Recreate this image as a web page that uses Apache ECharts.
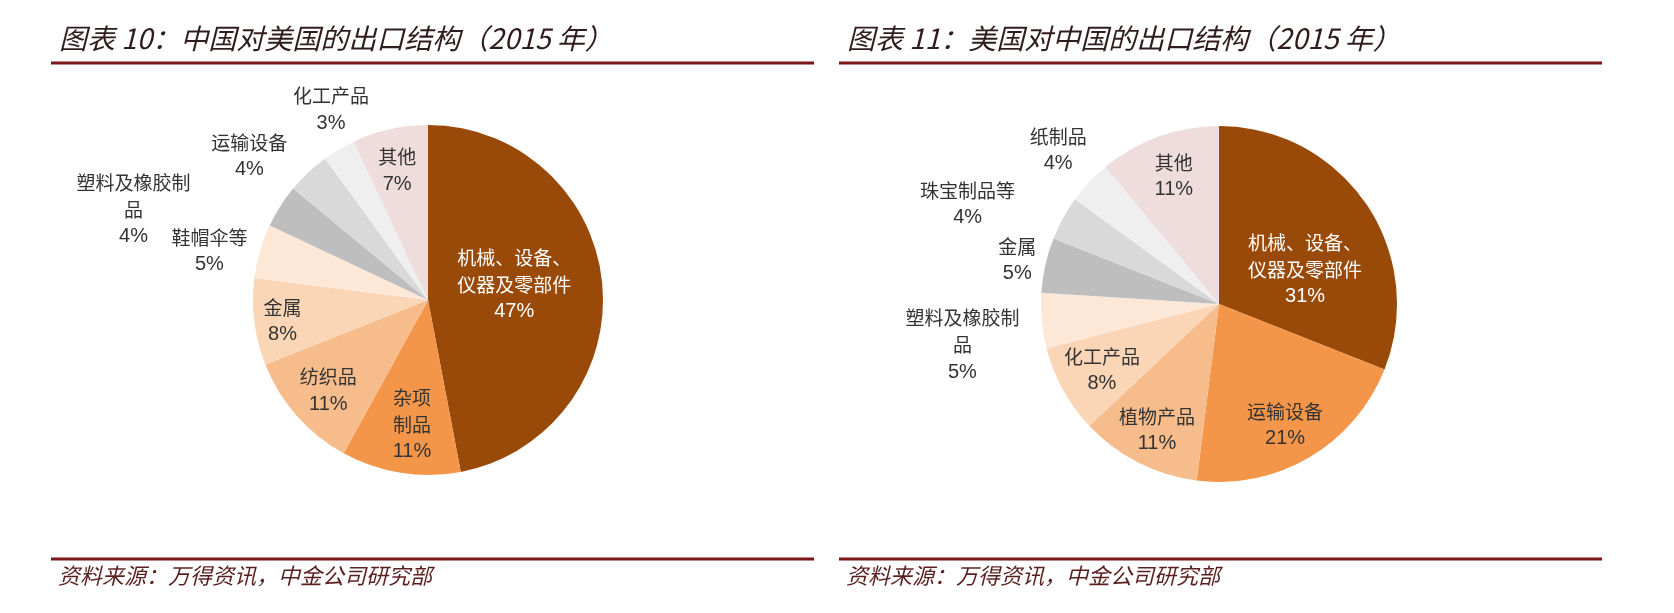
<!DOCTYPE html>
<html>
<head>
<meta charset="utf-8">
<script src="https://cdn.jsdelivr.net/npm/echarts@6/dist/echarts.min.js"></script>
<style>
html,body{margin:0;padding:0;background:#fff;}
#c{width:1674px;height:613px;}
</style>
</head>
<body>
<div id="c"></div>
<script>
// ---- data ----
const leftTitle = '图表 10：中国对美国的出口结构（2015 年）';
const rightTitle = '图表 11：美国对中国的出口结构（2015 年）';
const sourceText = '资料来源：万得资讯，中金公司研究部';

const leftCategories = ['机械、设备、仪器及零部件','杂项制品','纺织品','金属','鞋帽伞等','塑料及橡胶制品','运输设备','化工产品','其他'];
const leftValues = [47, 11, 11, 8, 5, 4, 4, 3, 7];
const leftLabelLines = [['机械、设备、','仪器及零部件'],['杂项','制品'],['纺织品'],['金属'],['鞋帽伞等'],['塑料及橡胶制','品'],['运输设备'],['化工产品'],['其他']];

const rightCategories = ['机械、设备、仪器及零部件','运输设备','植物产品','化工产品','塑料及橡胶制品','金属','珠宝制品等','纸制品','其他'];
const rightValues = [31, 21, 11, 8, 5, 5, 4, 4, 11];
const rightLabelLines = [['机械、设备、','仪器及零部件'],['运输设备'],['植物产品'],['化工产品'],['塑料及橡胶制','品'],['金属'],['珠宝制品等'],['纸制品'],['其他']];

// ---- styles / layout ----
const sliceColors = ['#9a4a08','#f4964a','#f7bc8b','#fad6b6','#fde8d8','#bebebe','#d9d9d9','#efefef','#efdcdc'];
const labelColors = ['#ffffff','#333','#333','#333','#333','#333','#333','#333','#333'];
// label placement: [angle clockwise from 12 o'clock (deg), distance as fraction of radius]
const leftLabelPolar = [[80.1,0.50],[187.3,0.72],[227.7,0.77],[261.8,0.84],[282.6,1.28],[287,1.76],[308.8,1.31],[333,1.22],[346.6,0.76]];
const rightLabelPolar = [[68.4,0.52],[151.4,0.775],[206.2,0.79],[240.6,0.755],[260.9,1.46],[282.3,1.16],[291.7,1.52],[313.7,1.25],[340.5,0.76]];
const pies = [
  {center:[428,300], r:175, cats:leftCategories, vals:leftValues, lines:leftLabelLines, polar:leftLabelPolar},
  {center:[1219,304], r:178, cats:rightCategories, vals:rightValues, lines:rightLabelLines, polar:rightLabelPolar}
];

const cjk = '"Noto Sans CJK SC", sans-serif';
const latin = '"Liberation Sans", "Noto Sans CJK SC", sans-serif';

function makeSeries(p, si) {
  return {
    type: 'pie',
    center: p.center,
    radius: p.r,
    startAngle: 90,
    clockwise: true,
    avoidLabelOverlap: false,
    animation: false,
    labelLine: {show: false},
    itemStyle: {borderWidth: 0},
    emphasis: {disabled: true},
    data: p.cats.map((c, i) => ({
      name: c,
      value: p.vals[i],
      itemStyle: {color: sliceColors[i]},
      label: {color: labelColors[i]}
    })),
    label: {
      show: true,
      position: 'inside',
      formatter: (params) => {
        const ls = p.lines[params.dataIndex].map(t => '{n|' + t + '}');
        return ls.join('\n') + '\n{p|' + params.value + '%}';
      },
      rich: {
        n: {fontFamily: cjk, fontSize: 19, lineHeight: 27, align: 'center'},
        p: {fontFamily: latin, fontSize: 20, lineHeight: 27, align: 'center'}
      }
    },
    labelLayout: (params) => {
      const pol = p.polar[params.dataIndex];
      const a = pol[0] * Math.PI / 180;
      return {
        x: p.center[0] + pol[1] * p.r * Math.sin(a),
        y: p.center[1] - pol[1] * p.r * Math.cos(a),
        align: 'center',
        verticalAlign: 'middle'
      };
    }
  };
}

const lineColor = '#7a1518';
const titleColor = '#2f1c1c';
const srcColor = '#5a1e1e';

function panelGraphics(x0, x1, title) {
  return [
    {type: 'text', left: x0 + 8, top: 24, style: {text: title, fontFamily: cjk, fontSize: 28, fontStyle: 'italic', fill: titleColor}},
    {type: 'line', shape: {x1: x0, y1: 63, x2: x1, y2: 63}, style: {stroke: lineColor, lineWidth: 3}},
    {type: 'line', shape: {x1: x0, y1: 559, x2: x1, y2: 559}, style: {stroke: lineColor, lineWidth: 3}},
    {type: 'text', left: x0 + 7, top: 565, style: {text: sourceText, fontFamily: cjk, fontSize: 22, fontStyle: 'italic', fill: srcColor}}
  ];
}

const chart = echarts.init(document.getElementById('c'), null, {renderer: 'canvas'});
chart.setOption({
  backgroundColor: '#ffffff',
  animation: false,
  graphic: [].concat(panelGraphics(51, 814, leftTitle), panelGraphics(839, 1602, rightTitle)),
  series: pies.map(makeSeries)
});
</script>
</body>
</html>
